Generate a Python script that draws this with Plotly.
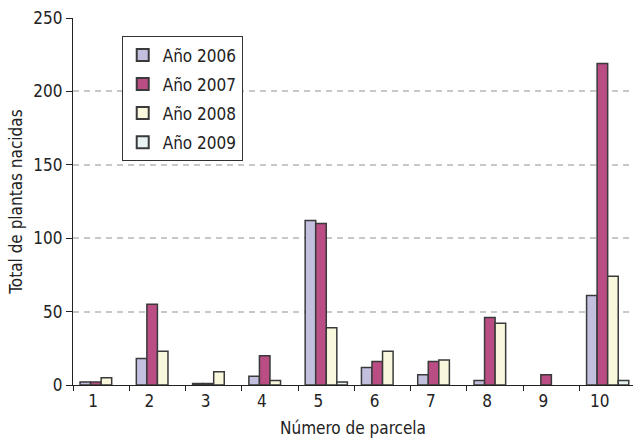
import plotly.graph_objects as go

parcelas = ["1", "2", "3", "4", "5", "6", "7", "8", "9", "10"]
anios = ["Año 2006", "Año 2007", "Año 2008", "Año 2009"]
plantas_2006 = [2, 18, 1, 6, 112, 12, 7, 3, 0, 61]
plantas_2007 = [2, 55, 1, 20, 110, 16, 16, 46, 7, 219]
plantas_2008 = [5, 23, 9, 3, 39, 23, 17, 42, 0, 74]
plantas_2009 = [0, 0, 0, 0, 2, 0, 0, 0, 0, 3]
y_ticks = [0, 50, 100, 150, 200, 250]

series = [plantas_2006, plantas_2007, plantas_2008, plantas_2009]
colores = ["#c2bfdf", "#b94d84", "#f9f8dc", "#eaf3f3"]

FONT = "Liberation Sans Narrow, DejaVu Sans Condensed, Arial Narrow, sans-serif"

fig = go.Figure()
for nombre, valores, color in zip(anios, series, colores):
    # empty bars get no outline so nothing is drawn along the baseline
    bordes = [1.5 if v > 0 else 0 for v in valores]
    fig.add_trace(go.Bar(
        x=parcelas, y=valores, name=nombre, legendgroup=nombre,
        marker=dict(color=color, line=dict(color="#3a3a3a", width=bordes)),
    ))

fig.update_layout(
    width=633, height=440,
    margin=dict(l=73, r=0, t=18, b=55),
    paper_bgcolor="white", plot_bgcolor="white",
    barmode="group", bargap=0.25, bargroupgap=0,
    font=dict(family=FONT, size=16, color="#222"),
    showlegend=True,
    legend=dict(
        x=0.087, y=0.95, xanchor="left", yanchor="top",
        bgcolor="white", bordercolor="#333", borderwidth=1,
        font=dict(family=FONT, size=17, color="#222"),
        traceorder="grouped", tracegroupgap=4,
        itemsizing="constant",
    ),
)

fig.update_xaxes(
    type="category", range=[-0.5, 9.45],
    tickson="boundaries", ticks="outside", ticklen=5, tickcolor="#222",
    showline=True, linecolor="#222", linewidth=1.2,
    showgrid=False, ticklabelshift=-8,
    tickfont=dict(family=FONT, size=17, color="#222"),
    title=dict(text="Número de parcela", standoff=12,
               font=dict(family=FONT, size=17, color="#222")),
)

fig.update_yaxes(
    range=[0, 250], tickvals=y_ticks,
    ticks="outside", ticklen=6, tickcolor="#222",
    showline=True, linecolor="#222", linewidth=1.2,
    showgrid=True, gridcolor="#c8c8c8", gridwidth=1.5, griddash="6px,5px",
    zeroline=False,
    tickfont=dict(family=FONT, size=17, color="#222"),
    title=dict(text="Total de plantas nacidas", standoff=6,
               font=dict(family=FONT, size=17, color="#222")),
)

fig.write_html("out.html")
